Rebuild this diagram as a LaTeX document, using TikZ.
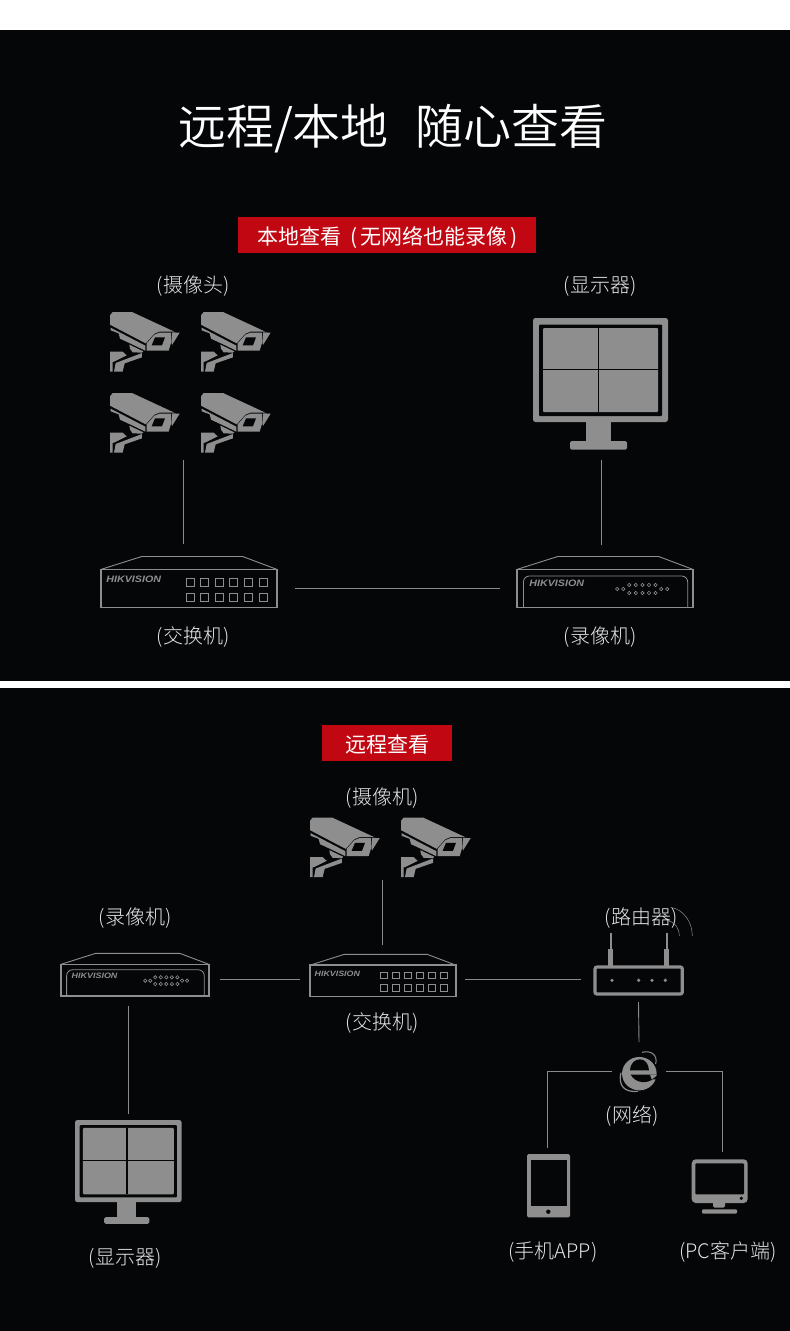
\documentclass[tikz,border=0pt]{standalone}
\usepackage{fontspec}
\setmainfont{Noto Sans CJK SC Light}
\newfontfamily\cjkdemi{Noto Sans CJK SC DemiLight}
\newfontfamily\cjkreg{Noto Sans CJK SC}
\newfontfamily\hikfont[FakeStretch=1.15]{Liberation Sans}
\definecolor{bgk}{HTML}{050608}
\definecolor{dev}{HTML}{8E8E8E}
\definecolor{wire}{HTML}{8A8A8A}
\definecolor{lbl}{HTML}{E6E6E6}
\definecolor{redb}{HTML}{C00712}
\tikzset{
  wirel/.style={draw=wire,line width=0.9pt},
  devbox/.style={inner sep=0pt,outer sep=0pt,minimum width=#1},
  caption/.style={text=lbl,font=\fontsize{20}{24}\selectfont,inner sep=0pt},
  redtag/.style={fill=redb,text=white,font=\cjkreg\fontsize{21}{26}\selectfont,inner sep=0pt,minimum height=36pt},
}
\newcommand{\cctv}[2]{%
\begin{scope}[shift={(#1,#2)},x=0.3333pt,y=-0.3333pt]
\fill[dev] (12,50)--(12,22)--(20,12)--(78,12)--(205,71)--(160,71)--(145,77)--(119,106)--cycle;
\fill[dev] (14,59)--(118,113)--(118,128)--(70,105)--(42,92)--(38,76)--(14,67)--cycle;
\fill[dev] (122,106)--(145,80)--(160,74)--(195,74)--(195,105)--(188,128)--(122,128)--cycle;
\fill[bgk] (137,112)--(147,88)--(177,88)--(168,112)--cycle;
\fill[dev] (198,73)--(221,74)--(198,111)--(196,102)--cycle;
\fill[dev] (70,110)--(112,130)--(108,134)--(80,133)--(72,122)--cycle;
\fill[dev] (12,131)--(50,131)--(62,142)--(26,160)--(20,162)--(20,191)--(12,191)--cycle;
\fill[dev] (108,135)--(108,148)--(56,166)--(50,191)--(24,191)--(29,165)--cycle;
\end{scope}}
\newcommand{\hikmark}{\hikfont\bfseries\itshape\fontsize{9.3}{10}\selectfont HIKVISION}
\newcommand{\netswitch}[3]{%
\begin{scope}[shift={(#1,#2)},x=#3pt,y=-#3pt]
\draw[dev,line width=1.6pt] (0,13.5) rectangle (176.5,51.5);
\draw[dev,line width=0.9pt] (0,13.5)--(41,0.5)--(142,0.5)--(176.5,13.5);
\foreach \c in {0,...,5}{
 \draw[dev,line width=0.9pt] (85.5+14.55*\c,22) rectangle (93.5+14.55*\c,30);
 \draw[dev,line width=0.9pt] (85.5+14.55*\c,37) rectangle (93.5+14.55*\c,45);}
\node[scale=#3,anchor=west,inner sep=0pt,text=dev] at (5.5,23.5) {\hikmark};
\end{scope}}
\newcommand{\recorderbox}[3]{%
\begin{scope}[shift={(#1,#2)},x=#3pt,y=-#3pt]
\draw[dev,line width=1.6pt] (0,13.5) rectangle (176.5,51.5);
\draw[dev,line width=0.9pt] (0,13.5)--(41,0.5)--(142,0.5)--(176.5,13.5);
\draw[dev,line width=0.8pt,rounded corners=6pt] (6.7,51.5)--(6.7,20)--(171,20)--(171,51.5);
\foreach \c in {0,...,4}{
 \draw[dev,line width=0.6pt] (112.5+6.6*\c,29) circle[radius=1.7pt];
 \draw[dev,line width=0.6pt] (112.5+6.6*\c,37) circle[radius=1.7pt];}
\foreach \c in {100.5,106.5,144.5,150.5}{\draw[dev,line width=0.6pt] (\c,33) circle[radius=1.7pt];}
\node[scale=#3,anchor=west,inner sep=0pt,text=dev] at (12.5,27.5) {\hikmark};
\end{scope}}
\newcommand{\screenunit}[3]{%
\begin{scope}[shift={(#1,#2)},x=#3pt,y=-#3pt]
\fill[dev,rounded corners=2.5pt] (0,0) rectangle (135,104);
\fill[bgk,rounded corners=1pt] (6,6.5) rectangle (129,98);
\fill[dev,rounded corners=1pt] (10,10) rectangle (125,94);
\draw[bgk,line width=1.3pt] (65.7,10)--(65.7,94) (10,51.5)--(125,51.5);
\fill[dev] (53,104) rectangle (77.5,124);
\fill[dev,rounded corners=1.5pt] (37,123) rectangle (94,131.5);
\end{scope}}
\begin{document}
\begin{tikzpicture}[x=1pt,y=-1pt]
\useasboundingbox (0,0) rectangle (790,1331);
\fill[white] (0,0) rectangle (790,1331);
\fill[bgk] (0,30) rectangle (790,681);
\fill[bgk] (0,688) rectangle (790,1331);
\node[text=white,font=\cjkdemi\fontsize{48}{56}\selectfont,inner sep=0pt] (title) at (393,129) {远程/本地\hspace{27pt}随心查看};
\node[redtag,minimum width=298pt] (tagA) at (387,235) {\raisebox{0pt}[19pt][0pt]{\hspace{1pt}本地查看\hspace{9pt}(\hspace{3pt}无网络也能录像\hspace{3pt})}};
\node[redtag,minimum width=130pt] (tagB) at (387,743) {\raisebox{0pt}[19pt][0pt]{远程查看}};
\cctv{106}{308}\cctv{197}{308}\cctv{106}{389}\cctv{197}{389}
\screenunit{533}{318}{1}
\netswitch{100.7}{556}{1}
\recorderbox{516.7}{556}{1}
\node[caption] (lA1) at (193,286) {(摄像头)};
\node[caption] (lA2) at (600,286) {(显示器)};
\node[caption] (lA3) at (193,637) {(交换机)};
\node[caption] (lA4) at (600,637) {(录像机)};
\node[devbox=167pt,minimum height=148pt] (camsA) at (183.5,386) {};
\node[devbox=176pt,minimum height=64pt] (swA) at (183.5,576) {};
\node[devbox=136pt,minimum height=142pt] (monA) at (601.5,389) {};
\node[devbox=176pt,minimum height=64pt] (recA) at (601.5,577) {};
\node[devbox=194pt,minimum height=40pt] (swAh) at (198,588) {};
\node[devbox=202pt,minimum height=40pt] (recAh) at (601,588) {};
\draw[wirel] (camsA.south)--(swA.north);
\draw[wirel] (monA.south)--(recA.north);
\draw[wirel] (swAh.east)--(recAh.west);
\cctv{306}{813.5}\cctv{397}{813.5}
\netswitch{310}{954}{0.827}
\recorderbox{61}{953}{0.838}
\screenunit{75}{1120}{0.79}
\begin{scope}[shift={(580,900)},x=0.3333pt,y=-0.3333pt]
\fill[dev] (89,98) rectangle (95,150);
\fill[dev] (257,98) rectangle (263,150);
\fill[dev] (85,148) rectangle (99,198);
\fill[dev] (253,148) rectangle (267,198);
\draw[dev,line width=3.2pt,rounded corners=2pt] (45,201) rectangle (307,282);
\foreach \c in {96,176,216,256}{\fill[dev] (\c,241) circle[radius=1.8pt];}
\draw[dev,line width=0.5pt] (262,62) .. controls (285,65) and (298,85) .. (298,108);
\draw[dev,line width=0.5pt] (272,22) .. controls (310,28) and (337,65) .. (337,108);
\end{scope}
\begin{scope}[shift={(610,1042)},x=0.3333pt,y=-0.3333pt]
\fill[dev] (88,95) ellipse[x radius=17.3pt,y radius=16.7pt];
\fill[bgk] (60,85) .. controls (62,62) and (75,52) .. (90,52) .. controls (105,52) and (116,65) .. (117,85) -- cycle;
\fill[bgk] (62,98) -- (142,98) -- (142,112) -- (128,112) .. controls (112,124) and (78,126) .. (62,98) -- cycle;
\fill[dev] (125,112) .. controls (132,108) and (137,104) .. (140,100) -- (140,98) -- (120,98) -- cycle;
\draw[dev,line width=1pt] (96,31) .. controls (122,24) and (144,38) .. (137,66);
\draw[dev,line width=1.2pt] (33,92) .. controls (24,130) and (42,152) .. (84,148);
\end{scope}
\fill[dev,rounded corners=1.5pt] (527,1154) rectangle (570,1217.3);
\fill[bgk] (530.7,1160) rectangle (566.7,1206);
\fill[bgk] (548.3,1211.7) circle[radius=2.2pt];
\fill[dev,rounded corners=4pt] (691.7,1159.3) rectangle (747.7,1203);
\fill[bgk,rounded corners=1pt] (695.3,1163.3) rectangle (744,1194.3);
\fill[bgk] (741.3,1198.3) circle[radius=1.8pt];
\fill[dev,rounded corners=1.5pt] (713,1200) rectangle (725,1207.5);
\fill[dev,rounded corners=1pt] (702,1209.3) rectangle (737,1213.5);
\node[caption] (lB1) at (382,798) {(摄像机)};
\node[caption] (lB2) at (135,918) {(录像机)};
\node[caption] (lB3) at (382,1023) {(交换机)};
\node[caption] (lB4) at (641,918) {(路由器)};
\node[caption] (lB5) at (632,1116) {(网络)};
\node[caption] (lB6) at (125,1258) {(显示器)};
\node[caption] (lB7) at (553,1252) {(手机APP)};
\node[caption] (lB8) at (728,1252) {(PC客户端)};
\node[devbox=146pt,minimum height=60pt] (camsB) at (382.5,850) {};
\node[devbox=146pt,minimum height=40pt] (swB) at (382.5,965) {};
\node[devbox=146pt,minimum height=40pt] (recBv) at (128.5,986) {};
\node[devbox=106pt,minimum height=100pt] (monB) at (128.5,1164) {};
\node[devbox=162pt,minimum height=40pt] (recBh) at (139,979) {};
\node[devbox=165pt,minimum height=40pt] (swBh) at (382.5,979) {};
\node[devbox=114pt,minimum height=40pt] (routB) at (638,979) {};
\node[devbox=54pt,minimum height=58pt] (globe) at (639,1071) {};
\node[devbox=44pt,minimum height=69pt] (tablet) at (547.5,1182.5) {};
\node[devbox=58pt,minimum height=66pt] (pc) at (722.5,1185) {};
\node[devbox=90pt,minimum height=40pt] (routBv) at (638.5,982) {};
\draw[wirel] (camsB.south)--(swB.north);
\draw[wirel] (recBh.east)--(swBh.west);
\draw[wirel] (swBh.east)--(routB.west);
\draw[wirel] (routBv.south)--(globe.north);
\draw[wirel] (recBv.south)--(monB.north);
\draw[wirel] (globe.west)-|(tablet.north);
\draw[wirel] (globe.east)-|(pc.north);
\end{tikzpicture}
\end{document}
